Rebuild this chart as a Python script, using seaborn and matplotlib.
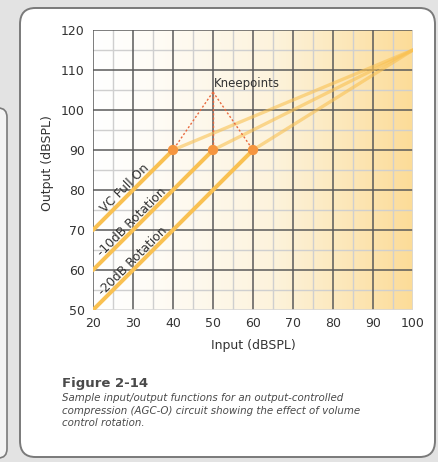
import numpy as np
import pandas as pd
import seaborn as sns
import matplotlib.pyplot as plt
from matplotlib.patches import FancyBboxPatch
from matplotlib.colors import LinearSegmentedColormap

# input/output functions (dBSPL)
curve_names = ['VC Full On', '-10dB Rotation', '-20dB Rotation']
vc_full_in = [20, 40, 100]
vc_full_out = [70, 90, 115]
minus10_in = [20, 50, 100]
minus10_out = [60, 90, 115]
minus20_in = [20, 60, 100]
minus20_out = [50, 90, 115]

knee_in = [40, 50, 60]
knee_out = [90, 90, 90]
knee_label_pos = (50, 104.5)

# where each curve label sits along its line
label_x = [29.2, 30.8, 31]
label_y = [79.2, 70.8, 61]

x_ticks = [20, 30, 40, 50, 60, 70, 80, 90, 100]
y_ticks = [50, 60, 70, 80, 90, 100, 110, 120]

caption_title = 'Figure 2-14'
caption_lines = ['Sample input/output functions for an output-controlled',
                 'compression (AGC-O) circuit showing the effect of volume',
                 'control rotation.']


def segments(name, xs, ys):
    # linear part up to the kneepoint, compression part after it
    lin = pd.DataFrame({'Input': xs[:2], 'Output': ys[:2], 'curve': name})
    comp = pd.DataFrame({'Input': xs[1:], 'Output': ys[1:], 'curve': name})
    return lin, comp


parts = [segments(curve_names[0], vc_full_in, vc_full_out),
         segments(curve_names[1], minus10_in, minus10_out),
         segments(curve_names[2], minus20_in, minus20_out)]
lin_df = pd.concat([p[0] for p in parts])
comp_df = pd.concat([p[1] for p in parts])
knees = pd.DataFrame({'Input': knee_in, 'Output': knee_out})

sns.set_style('white')
plt.rcParams['font.family'] = ['DejaVu Sans']

line_col = '#F9C152'
text_col = '#333333'

fig = plt.figure(figsize=(4.38, 4.62), dpi=100, facecolor='#e3e3e3')

# panels behind the chart
fig.patches.append(FancyBboxPatch((-30 / 438, 4 / 462), 37 / 438, 350 / 462,
                                  boxstyle='round,pad=0,rounding_size=0.02',
                                  transform=fig.transFigure, fc='#f3f3f3', ec='#7a7a7a', lw=1.2, zorder=-2))
fig.patches.append(FancyBboxPatch((20 / 438, 5 / 462), 415 / 438, 449 / 462,
                                  boxstyle='round,pad=0,rounding_size=0.035',
                                  transform=fig.transFigure, fc='white', ec='#7a7a7a', lw=1.4, zorder=-2))

ax = fig.add_axes([93 / 438, 1 - 310 / 462, 320 / 438, 280 / 462])
ax.set_xlim(20, 100)
ax.set_ylim(50, 120)

# background gradient white -> pale orange
cmap = LinearSegmentedColormap.from_list('bg', ['#ffffff', '#fdf3dc', '#fcdc98'])
grad = np.linspace(0, 1, 256)[None, :] ** 1.2
ax.imshow(grad, extent=[20, 100, 50, 120], aspect='auto', cmap=cmap, zorder=0)

# grid
for v in np.arange(25, 100, 10):
    ax.axvline(v, color='#cfcfcf', lw=1.0, zorder=1)
for v in np.arange(55, 120, 10):
    ax.axhline(v, color='#cfcfcf', lw=1.0, zorder=1)
for v in x_ticks[:-1]:
    ax.axvline(v, color='#5a5a5a', lw=1.1, zorder=1.2)
for v in y_ticks[1:]:
    ax.axhline(v, color='#5a5a5a', lw=1.1, zorder=1.2)
ax.axvline(100, color='#d8d8d8', lw=1.2, zorder=1.2)
ax.axhline(50, color='#d8d8d8', lw=1.2, zorder=1.2)

sns.lineplot(data=lin_df, x='Input', y='Output', hue='curve', sort=False,
             palette=[line_col] * 3, lw=2.9, legend=False, ax=ax, zorder=3)
sns.lineplot(data=comp_df, x='Input', y='Output', hue='curve', sort=False,
             palette=[line_col] * 3, lw=2.4, alpha=0.6, legend=False, ax=ax, zorder=3)

# dashed pointers to kneepoints
for kx, ky in zip(knee_in, knee_out):
    ax.plot([knee_label_pos[0], kx], [knee_label_pos[1], ky], color='#E8693E',
            lw=1.0, ls=(0, (1.5, 1.5)), zorder=4)
sns.scatterplot(data=knees, x='Input', y='Output', color='#F5953F', s=55,
                edgecolor='none', ax=ax, zorder=5)
ax.text(58.5, 106.5, 'Kneepoints', ha='center', va='center', fontsize=8.5,
        color=text_col, zorder=6)

for name, lx, ly in zip(curve_names, label_x, label_y):
    ax.text(lx, ly, name, rotation=45, rotation_mode='anchor', ha='center',
            va='bottom', fontsize=8.8, color=text_col, zorder=6)

for s in ax.spines.values():
    s.set_visible(False)
ax.set_xticks(x_ticks)
ax.set_yticks(y_ticks)
ax.tick_params(length=0, labelsize=9, labelcolor=text_col)
ax.tick_params(axis='x', pad=5)
ax.tick_params(axis='y', pad=6)
ax.set_xlabel('')
ax.set_ylabel('')

fig.text(253 / 438, 1 - 345 / 462, 'Input (dBSPL)', ha='center', va='center',
         fontsize=9, color=text_col)
fig.text(48 / 438, 1 - 163 / 462, 'Output (dBSPL)', ha='center', va='center',
         rotation=90, fontsize=9, color=text_col)

fig.text(62 / 438, 1 - 383 / 462, caption_title, ha='left', va='center',
         fontsize=9.5, fontweight='bold', color='#4a4a4a')
for i, line in enumerate(caption_lines):
    fig.text(62 / 438, 1 - (398 + 12.5 * i) / 462, line, ha='left', va='center',
             fontsize=7.4, style='italic', color='#4a4a4a')

fig.savefig('out.png', dpi=100, facecolor=fig.get_facecolor())
